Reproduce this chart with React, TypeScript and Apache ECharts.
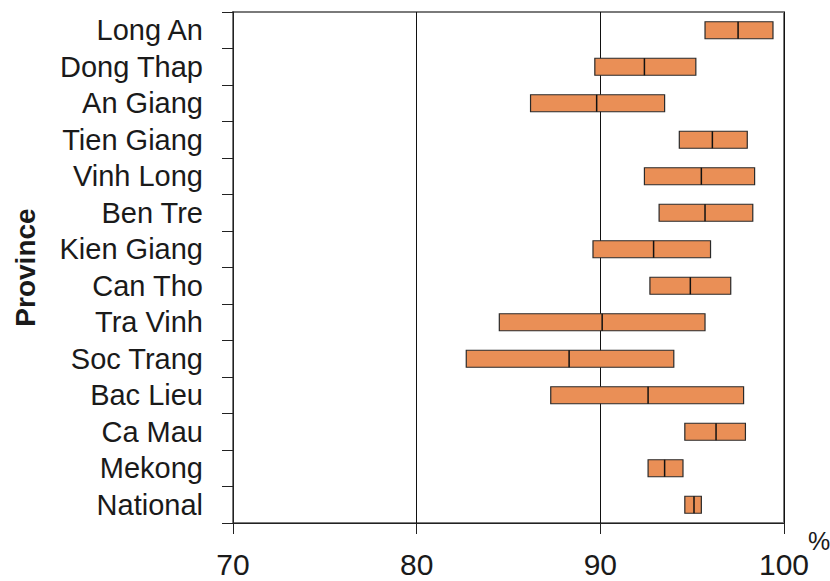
import React, { useEffect, useRef } from "react";
import * as echarts from "echarts";

const provinces = [
  "Long An", "Dong Thap", "An Giang", "Tien Giang", "Vinh Long", "Ben Tre", "Kien Giang",
  "Can Tho", "Tra Vinh", "Soc Trang", "Bac Lieu", "Ca Mau", "Mekong", "National",
];
const lowValues = [95.7, 89.7, 86.2, 94.3, 92.4, 93.2, 89.6, 92.7, 84.5, 82.7, 87.3, 94.6, 92.6, 94.6];
const medianValues = [97.5, 92.4, 89.8, 96.1, 95.5, 95.7, 92.9, 94.9, 90.1, 88.3, 92.6, 96.3, 93.5, 95.1];
const highValues = [99.4, 95.2, 93.5, 98.0, 98.4, 98.3, 96.0, 97.1, 95.7, 94.0, 97.8, 97.9, 94.5, 95.5];
const xTicks = [70, 80, 90, 100];

export default function App() {
  const ref = useRef<HTMLDivElement>(null);
  useEffect(() => {
    const chart = echarts.init(ref.current!, null, { renderer: "svg" });
    const font = "Liberation Sans, Arial, sans-serif";
    const data = provinces.map((_, i) => [i, lowValues[i], medianValues[i], highValues[i]]);
    chart.setOption({
      animation: false,
      backgroundColor: "#ffffff",
      grid: {
        left: 233, right: 46, top: 12, bottom: 58,
        containLabel: false, outerBoundsMode: "none",
        show: true, borderColor: "#7a7a7a", borderWidth: 2, backgroundColor: "transparent",
      },
      xAxis: {
        type: "value",
        min: xTicks[0],
        max: xTicks[xTicks.length - 1],
        interval: 10,
        axisLine: { show: true, lineStyle: { color: "#222", width: 1 } },
        axisTick: { show: true, length: 11, lineStyle: { color: "#222" } },
        splitLine: { show: true, lineStyle: { color: "#111", width: 1 } },
        axisLabel: { fontFamily: font, fontSize: 30, color: "#1a1a1a", margin: 26 },
      },
      yAxis: {
        type: "category",
        data: provinces,
        inverse: true,
        name: "Province",
        nameLocation: "middle",
        nameGap: 194,
        nameRotate: 90,
        nameTextStyle: { fontFamily: font, fontSize: 28, fontWeight: "bold", color: "#1a1a1a" },
        axisLine: { show: true, lineStyle: { color: "#222", width: 1 } },
        axisTick: { show: true, length: 11, lineStyle: { color: "#222" } },
        axisLabel: { fontFamily: font, fontSize: 29, color: "#1a1a1a", margin: 30, interval: 0, hideOverlap: false },
      },
      graphic: [
        { type: "text", left: 808, top: 528, style: { text: "%", font: "25px Liberation Sans, Arial, sans-serif", fill: "#1a1a1a" } },
      ],
      series: [
        {
          type: "custom",
          encode: { y: 0, x: [1, 2, 3] },
          data,
          renderItem: (params: any, api: any) => {
            const idx = api.value(0);
            const p1 = api.coord([api.value(1), idx]);
            const p2 = api.coord([api.value(2), idx]);
            const p3 = api.coord([api.value(3), idx]);
            const h = 17;
            return {
              type: "group",
              children: [
                {
                  type: "rect",
                  shape: { x: p1[0], y: p1[1] - h / 2, width: p3[0] - p1[0], height: h },
                  style: { fill: "#EA8F56", stroke: "#2a2a2a", lineWidth: 1.2 },
                },
                {
                  type: "line",
                  shape: { x1: p2[0], y1: p2[1] - h / 2, x2: p2[0], y2: p2[1] + h / 2 },
                  style: { stroke: "#111", lineWidth: 1.5 },
                },
              ],
            };
          },
        },
      ],
    });
    return () => chart.dispose();
  }, []);
  return <div ref={ref} style={{ width: 830, height: 581, position: "absolute", left: 0, top: 0 }} />;
}
